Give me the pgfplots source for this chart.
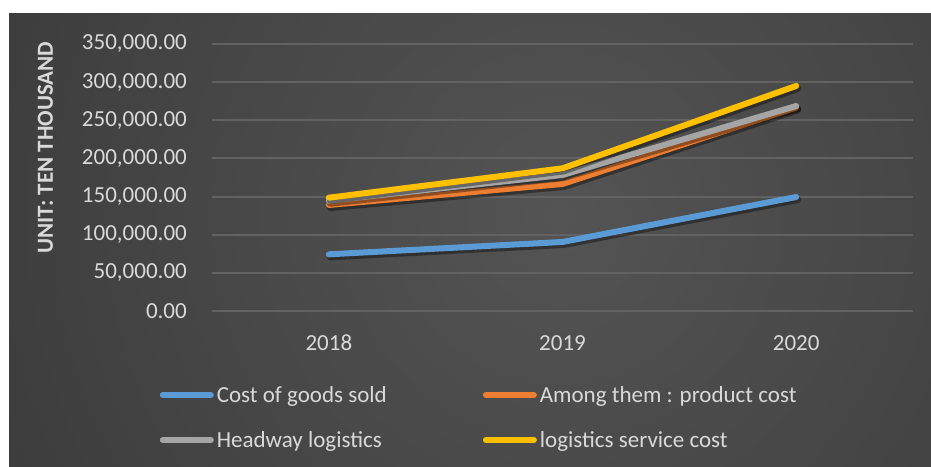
\documentclass[border=0pt]{standalone}
\usepackage{pgfplots}
\pgfplotsset{compat=1.18}
\usepackage{pgfplotstable}
\usepackage{fontspec}
\setmainfont{Carlito}
\definecolor{bgin}{RGB}{84,84,84}
\definecolor{bgout}{RGB}{36,36,36}
\definecolor{gridc}{RGB}{98,98,98}
\definecolor{tickc}{RGB}{217,217,217}
\definecolor{cblue}{RGB}{91,155,213}
\definecolor{corange}{RGB}{237,125,49}
\definecolor{cgray}{RGB}{165,165,165}
\definecolor{cyellow}{RGB}{255,192,0}

\pgfplotstableread{
x year cogs product headway service
0 2018 74300 139000 144600 148500
1 2019 90500 166500 178300 187000
2 2020 149400 266800 268700 295000
}\datatable

\begin{document}
\begin{tikzpicture}[x=1pt,y=1pt]
\path[use as bounding box] (0,0) rectangle (931,466);
\fill[white] (0,0) rectangle (931,466);
\begin{scope}
\clip (9,0) rectangle (931,452);
\shade[inner color=bgin, outer color=bgout] (560,250) circle (1250);
\end{scope}
\begin{axis}[
  at={(212pt,155pt)}, anchor=south west,
  width=701pt, height=267pt, scale only axis,
  xmin=-0.5, xmax=2.5, ymin=0, ymax=350000,
  axis line style={draw=none},
  major tick length=0pt,
  tick style={draw=none},
  ymajorgrids, grid style={gridc, line width=2pt},
  xtick={0,1,2}, xticklabels={2018,2019,2020},
  ytick={0,50000,100000,150000,200000,250000,300000,350000},
  scaled y ticks=false,
  yticklabel={\pgfmathprintnumber{\tick}},
  /pgf/number format/.cd, fixed, fixed zerofill, precision=2, 1000 sep={,}, assume math mode=true,
  /pgfplots/.cd,
  tick label style={font=\fontsize{23}{27}\selectfont, text=tickc},
  yticklabel style={inner sep=0pt, xshift=-25pt},
  xticklabel style={inner sep=0pt, yshift=-24pt},
  ylabel={UNIT: TEN THOUSAND},
  ylabel style={at={(axis description cs:-0.2375,0.612)}, anchor=center, font=\fontsize{23}{27}\selectfont\bfseries, text=tickc},
  legend columns=2,
  legend cell align=left,
  legend image code/.code={\path (-3pt,0pt) (51pt,0pt); \draw[#1, line width=6pt, line cap=round] (0pt,0pt) -- (48pt,0pt);},
  legend style={at={(axis description cs:-0.079,-0.2633)}, anchor=north west,
    draw=none, fill=none, inner sep=0pt,
    font=\fontsize{23}{27}\selectfont, text=tickc,
    row sep=18pt,
    /tikz/every even column/.append style={column sep=93pt},
    nodes={inner xsep=0pt, inner ysep=0pt, text height=21pt, text depth=6pt}},
]
\addplot[forget plot, black, opacity=0.38, line width=7pt, line cap=round, line join=round, transform canvas={xshift=1.5pt,yshift=-2.5pt}] table[x=x,y=cogs] {\datatable};
\addplot[cblue, line width=6pt, line cap=round, line join=round] table[x=x,y=cogs] {\datatable};
\addlegendentry{Cost of goods sold}
\addplot[forget plot, black, opacity=0.38, line width=7pt, line cap=round, line join=round, transform canvas={xshift=1.5pt,yshift=-2.5pt}] table[x=x,y=product] {\datatable};
\addplot[corange, line width=6pt, line cap=round, line join=round] table[x=x,y=product] {\datatable};
\addlegendentry{Among them : product cost}
\addplot[forget plot, black, opacity=0.38, line width=7pt, line cap=round, line join=round, transform canvas={xshift=1.5pt,yshift=-2.5pt}] table[x=x,y=headway] {\datatable};
\addplot[cgray, line width=6pt, line cap=round, line join=round] table[x=x,y=headway] {\datatable};
\addlegendentry{Headway logistics}
\addplot[forget plot, black, opacity=0.38, line width=7pt, line cap=round, line join=round, transform canvas={xshift=1.5pt,yshift=-2.5pt}] table[x=x,y=service] {\datatable};
\addplot[cyellow, line width=6pt, line cap=round, line join=round] table[x=x,y=service] {\datatable};
\addlegendentry{logistics service cost}
\end{axis}
\end{tikzpicture}
\end{document}
